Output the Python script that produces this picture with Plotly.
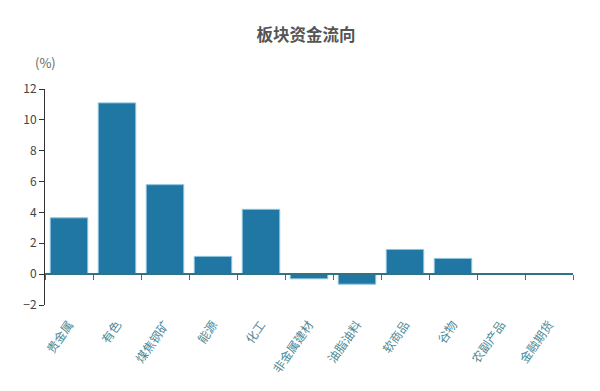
import plotly.graph_objects as go

categories = ["贵金属", "有色", "煤焦钢矿", "能源", "化工", "非金属建材",
              "油脂油料", "软商品", "谷物", "农副产品", "金融期货"]
values = [3.65, 11.1, 5.8, 1.15, 4.2, -0.3, -0.65, 1.6, 1.02, 0, 0]
y_ticks = [-2, 0, 2, 4, 6, 8, 10, 12]

FONT = "Noto Sans CJK SC, Noto Sans, sans-serif"
AXIS_TEAL = "#2f7385"

fig = go.Figure(go.Bar(
    x=categories, y=values,
    marker=dict(color="#2177a3", line=dict(color="#8cc4dc", width=1)),
))

fig.update_layout(
    width=600, height=391,
    margin=dict(l=45, r=27, t=89, b=86),
    paper_bgcolor="white", plot_bgcolor="white",
    bargap=0.22,
    showlegend=False,
    font=dict(family=FONT, size=12, color="#333"),
    title=dict(text="<b>板块资金流向</b>", x=0.51, xanchor="center", y=0.91, yanchor="middle",
               font=dict(family=FONT, size=16.5, color="#555")),
    annotations=[dict(text="(%)", xref="paper", yref="paper", x=0.0, y=1.125,
                      xanchor="center", yanchor="middle", showarrow=False,
                      font=dict(family=FONT, size=13, color="#666"))],
)

fig.update_yaxes(
    range=[-2, 12], tickvals=y_ticks, showgrid=False, zeroline=False,
    showline=True, linecolor="#333", linewidth=1,
    ticks="outside", ticklen=5, tickcolor="#333",
    tickfont=dict(family=FONT, size=12, color="#444"),
)

fig.update_xaxes(
    type="category", anchor="free", position=2 / 14,
    showline=True, linecolor=AXIS_TEAL, linewidth=1.5,
    ticks="outside", tickson="boundaries", ticklen=5, tickcolor=AXIS_TEAL,
    showgrid=False, tickangle=-55, ticklabelstandoff=38,
    tickfont=dict(family=FONT, size=12, color="#4d8a96"),
)

fig.write_html("out.html")
